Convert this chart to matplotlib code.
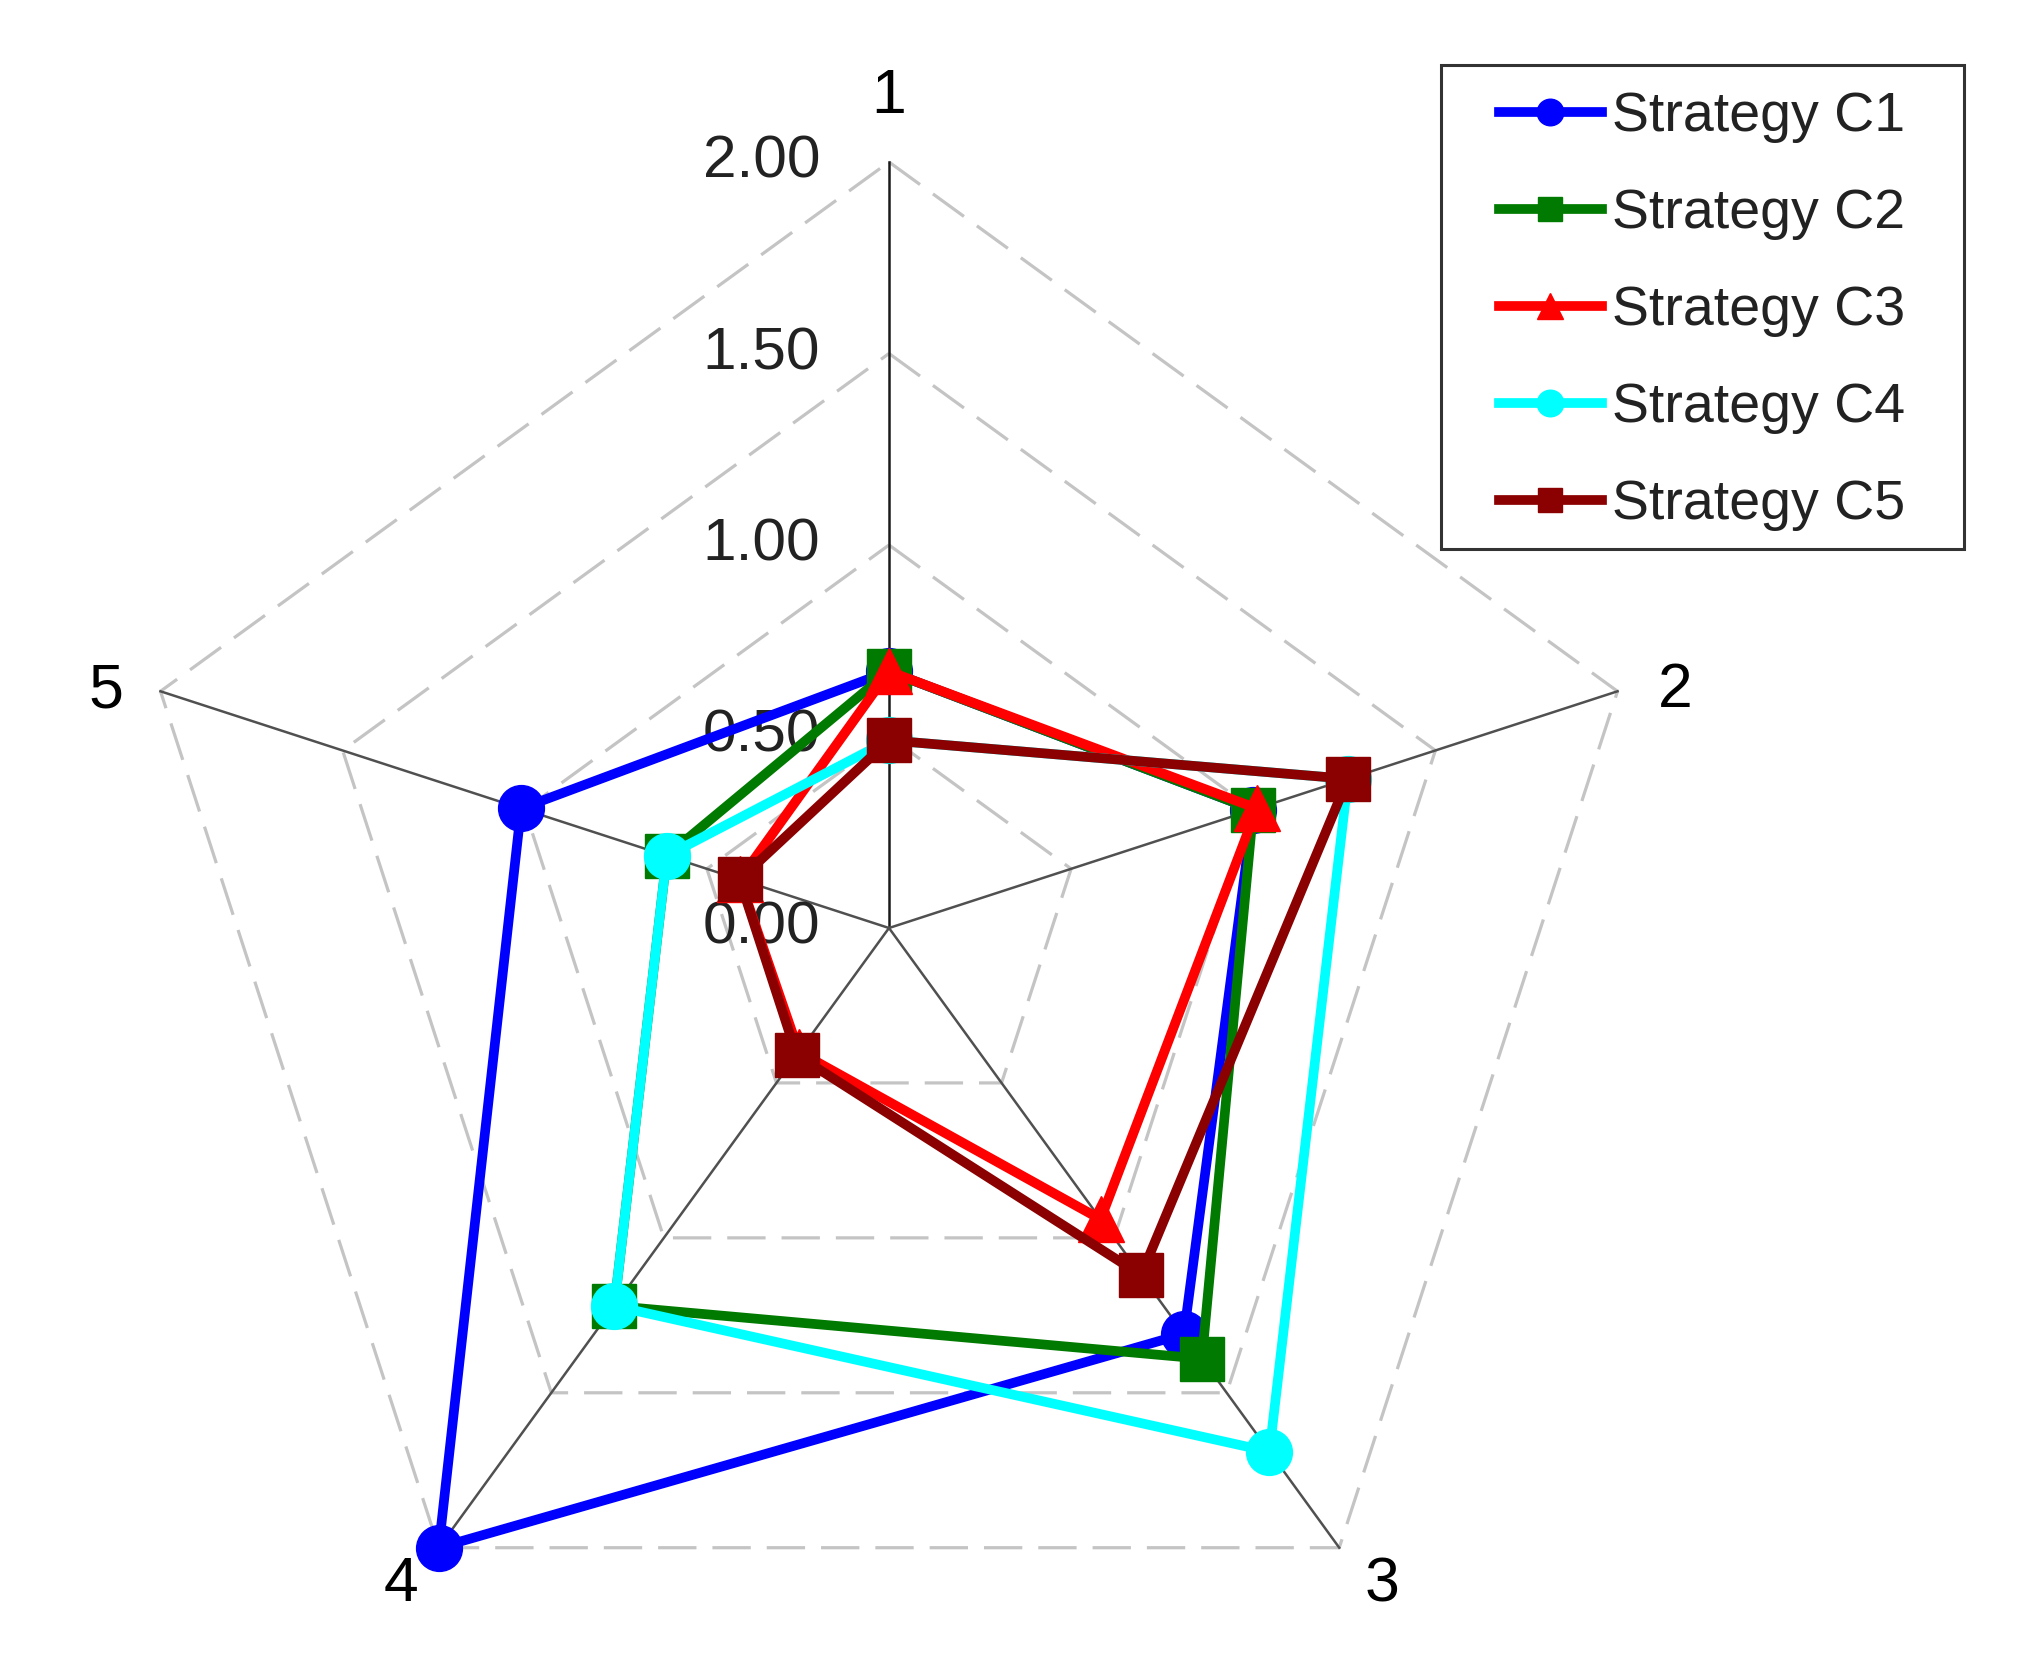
import numpy as np
import matplotlib
matplotlib.use("Agg")
import matplotlib.pyplot as plt
from matplotlib.patches import Rectangle

plt.rcParams['font.family'] = ['Liberation Sans', 'DejaVu Sans']

# ---- data ----
axis_labels = ["1", "2", "3", "4", "5"]
grid_levels = [0.5, 1.0, 1.5, 2.0]
tick_levels = [0.0, 0.5, 1.0, 1.5, 2.0]
tick_labels = ["0.00", "0.50", "1.00", "1.50", "2.00"]

series_names = ["Strategy C1", "Strategy C2", "Strategy C3", "Strategy C4", "Strategy C5"]
c1 = [0.67, 1.00, 1.31, 2.00, 1.01]
c2 = [0.67, 1.00, 1.39, 1.22, 0.61]
c3 = [0.67, 1.01, 0.94, 0.40, 0.41]
c4 = [0.49, 1.26, 1.69, 1.22, 0.61]
c5 = [0.49, 1.26, 1.12, 0.41, 0.41]
series = [c1, c2, c3, c4, c5]

colors = ["#0000ff", "#007a00", "#ff0000", "#00ffff", "#8b0000"]
markers = ["o", "s", "^", "o", "s"]
msizes = [33, 31, 33, 33, 31]

# angles: axis 1 on top, going clockwise
n = len(axis_labels)
theta = np.deg2rad(90 - 72 * np.arange(n))


def to_xy(vals):
    v = np.asarray(vals, dtype=float)
    return v * np.cos(theta), v * np.sin(theta)


W, H = 2026, 1673
cx, cy = 889, 928      # centre of the web in pixels (from top-left)
ppu = 383.0            # pixels per unit

fig = plt.figure(figsize=(W / 100, H / 100), dpi=100)
ax = fig.add_axes([0, 0, 1, 1])
ax.set_xlim(-cx / ppu, (W - cx) / ppu)
ax.set_ylim(-(H - cy) / ppu, cy / ppu)
ax.set_aspect('equal')
ax.axis('off')

# dashed pentagon grid
for lev in grid_levels:
    gx, gy = to_xy([lev] * n)
    ax.plot(np.append(gx, gx[0]), np.append(gy, gy[0]), color="#c4c4c4",
            lw=2.3, dashes=(12, 5), zorder=1)

# spokes
for k in range(n):
    ex, ey = to_xy([2.0 if i == k else 0 for i in range(n)])
    ax.plot([0, ex[k]], [0, ey[k]], color="#1a1a1a" if k == 0 else "#505050",
            lw=1.8, zorder=2)

# radial tick labels left of axis 1
for lev, lab in zip(tick_levels, tick_labels):
    ax.text(-0.18, lev, lab, ha='right', va='center', fontsize=43.5,
            color="#222222", zorder=2)

# axis labels (positions in data units around the web)
lab_pos = [(0.0, 2.17), (2.054, 0.62), (1.288, -1.715), (-1.275, -1.715), (-2.044, 0.62)]
for (lx, ly), lab in zip(lab_pos, axis_labels):
    ax.text(lx, ly, lab, ha='center', va='center', fontsize=45, color="black")

# series
for name, vals, col, mk, ms in zip(series_names, series, colors, markers, msizes):
    x, y = to_xy(vals)
    ax.plot(np.append(x, x[0]), np.append(y, y[0]), color=col, lw=7,
            marker=mk, markersize=ms, markevery=list(range(n)),
            label=name, zorder=5, solid_joinstyle='miter')

# legend with a plain square box
fig.patches.append(Rectangle((1441 / W, 1 - 549 / H), 523 / W, 484 / H,
                             transform=fig.transFigure, fill=False,
                             edgecolor="#333333", lw=2.2))
leg = ax.legend(loc='upper left', bbox_to_anchor=(1499 / W, 1 - 91 / H),
                bbox_transform=fig.transFigure, frameon=False, fontsize=40,
                handlelength=1.85, handletextpad=0.18, labelspacing=0.81,
                borderpad=0, borderaxespad=0, markerscale=0.58)
for t in leg.get_texts():
    t.set_color("#222222")

fig.savefig("out.png", dpi=100, facecolor="white")
